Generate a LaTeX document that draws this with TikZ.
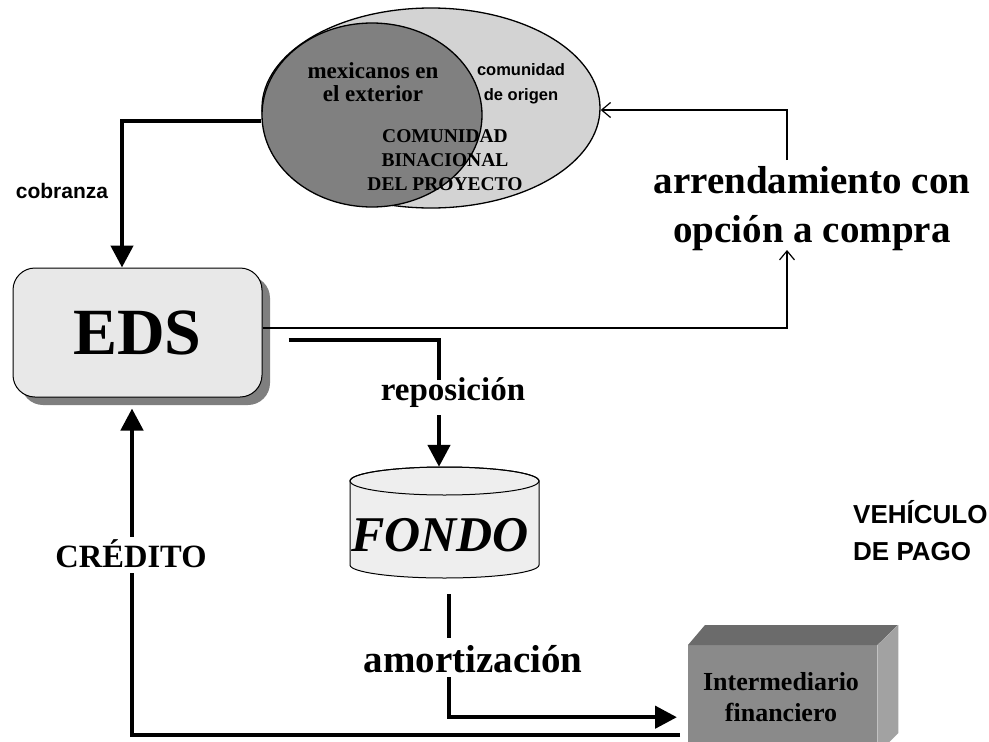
\documentclass[tikz,border=0pt]{standalone}
\usepackage{fontspec}
\setmainfont{Liberation Serif}
\setsansfont{Liberation Sans}
\usetikzlibrary{shapes.geometric,arrows.meta,shadows}
\definecolor{lightell}{HTML}{D3D3D3}
\definecolor{darkell}{HTML}{808080}
\definecolor{edsfill}{HTML}{E8E8E8}
\definecolor{edsshadow}{HTML}{7F7F7F}
\definecolor{fondofill}{HTML}{EEEEEE}
\definecolor{boxfront}{HTML}{8A8A8A}
\definecolor{boxtop}{HTML}{6B6B6B}
\definecolor{boxside}{HTML}{A2A2A2}
\begin{document}
\begin{tikzpicture}[x=1pt,y=-1pt,
  serifb/.style={font=\fontsize{#1pt}{#1pt}\selectfont\bfseries},
  serifbi/.style={font=\fontsize{#1pt}{#1pt}\selectfont\bfseries\itshape},
  sansb/.style={font=\fontsize{#1pt}{#1pt}\selectfont\sffamily\bfseries},
  lbl/.style={inner sep=0pt, anchor=base},
  gaplbl/.style={inner sep=0pt, anchor=base, fill=white},
  bigarrow/.style={line width=4.5pt, -{Triangle[width=22pt,length=22pt]}},
  thinarrow/.style={line width=1.2pt, -{Straight Barb[length=9pt,width=15pt,line width=1.2pt]}},
  ellborder/.style={draw, line width=1.3pt, inner sep=0pt}]
\useasboundingbox (0,0) rectangle (989,742);

% community ellipses
\node[ellipse, ellborder, fill=lightell, minimum width=338pt, minimum height=200pt] (comm) at (431,108) {};
\node[ellipse, ellborder, fill=darkell, minimum width=220pt, minimum height=184pt] (mex) at (372,115) {};
\node[lbl, serifb=23] (mex1) at (373,78) {mexicanos en};
\node[lbl, serifb=23] (mex2) at (373,101) {el exterior};
\node[lbl, sansb=16.5] (orig1) at (521,75) {comunidad};
\node[lbl, sansb=16.5] (orig2) at (521,100) {de origen};
\node[lbl, serifb=19.5] (bin1) at (445,142) {COMUNIDAD};
\node[lbl, serifb=19.5] (bin2) at (445,166) {BINACIONAL};
\node[lbl, serifb=19.5] (bin3) at (445,190) {DEL PROYECTO};

% EDS box
\node[draw, line width=1pt, rounded corners=22pt, fill=edsfill, minimum width=249pt, minimum height=129pt, inner sep=0pt,
  drop shadow={shadow xshift=8pt, shadow yshift=-8pt, fill=edsshadow, opacity=1}, serifb=66] (eds) at (137.5,332.5) {EDS};

% FONDO cylinder
\node[minimum width=189pt, minimum height=111pt, inner sep=0pt] (fondo) at (444.5,522.5) {};
\path[draw, line width=1pt, fill=fondofill] (350,481) -- (350,565)
  arc[start angle=180, end angle=0, x radius=94.5, y radius=13] -- (539,481)
  arc[start angle=0, end angle=-180, x radius=94.5, y radius=14] -- cycle;
\draw[line width=1pt] (444.5,481) ellipse[x radius=94.5, y radius=14];
\node[serifbi=50, inner sep=0pt] (fondotxt) at (440,535) {FONDO};

% Intermediario financiero box
\node[fill=boxfront, minimum width=189pt, minimum height=110pt, anchor=north west, inner sep=0pt] (inter) at (688,645) {};
\fill[boxtop] (inter.north west) -- ++(17,-20) -- ++(193,0) -- (inter.north east) -- cycle;
\fill[boxside] (inter.north east) -- ++(21,-20) -- ++(0,108) -- ++(-21,21) -- cycle;
\node[lbl, serifb=26] (inter1) at (781,690) {Intermediario};
\node[lbl, serifb=26] (inter2) at (781,721) {financiero};

% free ends of the thin connector
\coordinate (arrbot) at (787,250);
\coordinate (arrtop) at (787,160);

% connectors
\draw[bigarrow] ([yshift=-6pt]mex.west) -| ([xshift=-15.5pt]eds.north);
\draw[bigarrow] ([xshift=26pt,yshift=-7.5pt]eds.east) -| ([xshift=-5.5pt]fondo.north);
\draw[bigarrow, shorten >=11pt] ([xshift=4.5pt,yshift=-16pt]fondo.south) |- ([yshift=-17pt]inter.west);
\draw[bigarrow] ([xshift=-8pt,yshift=-35pt]inter.west) -| ([xshift=-5.5pt,yshift=-11pt]eds.south);
\draw[thinarrow] ([yshift=4.5pt]eds.east) -| (arrbot);
\draw[thinarrow] (arrtop) |- ([yshift=-2pt]comm.east);

% labels
\node[lbl, sansb=21] (cobr) at (62,198) {cobranza};
\node[gaplbl, serifb=33, text height=20pt, text depth=15pt] (repo) at (453,400) {reposición};
\node[gaplbl, serifb=39, text height=34pt, text depth=5pt] (amort) at (473,672) {amortización};
\node[gaplbl, serifb=32.5, text height=30pt, text depth=6pt] (cred) at (131,567) {CRÉDITO};
\node[lbl, serifb=39] (arr1) at (812,193) {arrendamiento con};
\node[lbl, serifb=39] (arr2) at (812,242) {opción a compra};
\node[lbl, sansb=26, anchor=base west] (veh1) at (853,523) {VEHÍCULO};
\node[lbl, sansb=26, anchor=base west] (veh2) at (853,560) {DE PAGO};
\end{tikzpicture}
\end{document}
